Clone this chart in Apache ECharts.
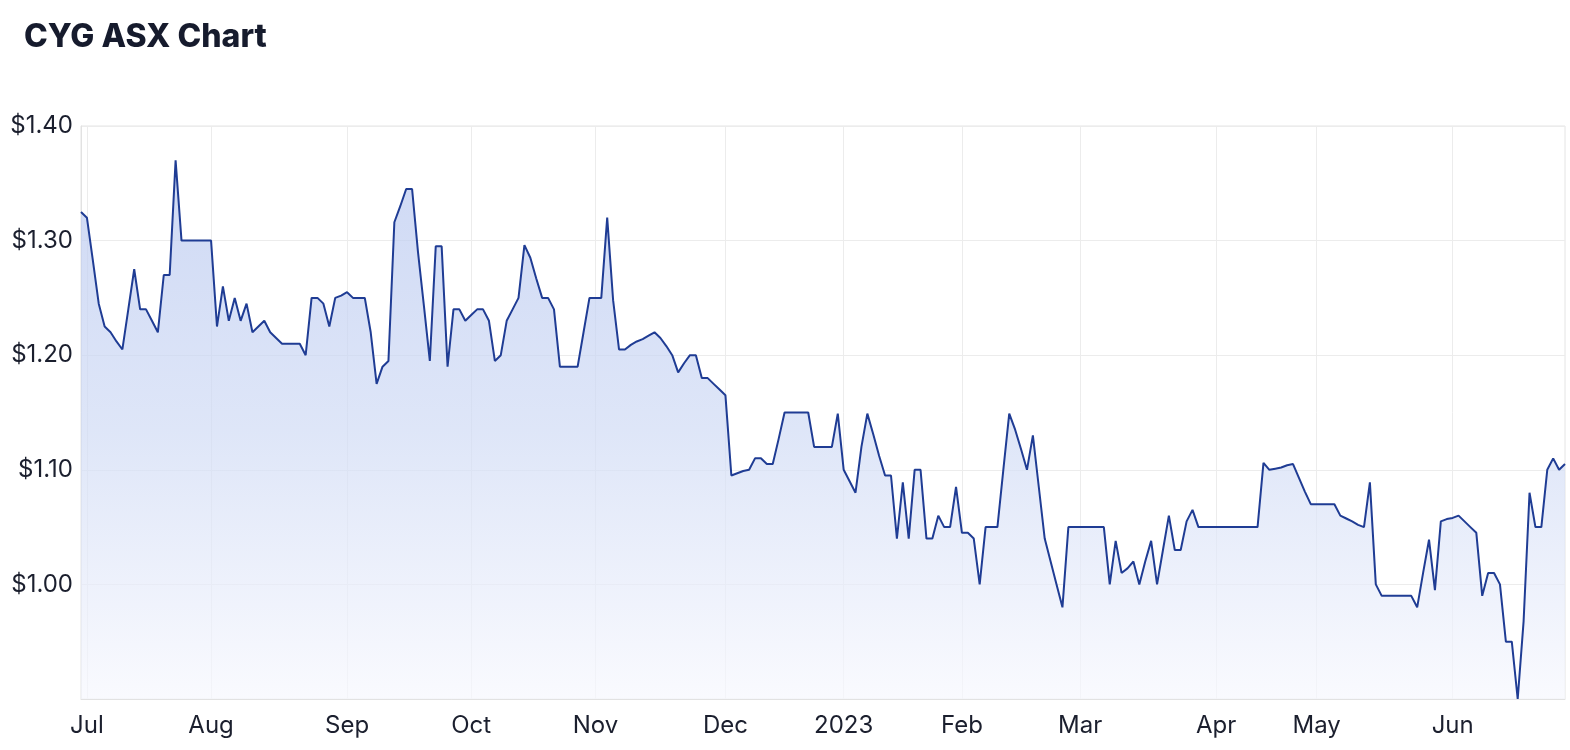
<!DOCTYPE html>
<html>
<head>
<meta charset="utf-8">
<script src="https://cdn.jsdelivr.net/npm/echarts@6/dist/echarts.min.js"></script>
<style>
html,body{margin:0;padding:0;background:#ffffff;}
#c{width:1570px;height:750px;}
</style>
</head>
<body>
<div id="c"></div>
<script>
// Trading months and the trading days (day of month) in each
const tradeMonths = ['2022-06','2022-07','2022-08','2022-09','2022-10','2022-11','2022-12','2023-01','2023-02','2023-03','2023-04','2023-05','2023-06'];
const tradeDays = [
  [30],
  [1,4,5,6,7,8,11,12,13,14,15,18,19,20,21,22,25,26,27,28,29],
  [1,2,3,4,5,8,9,10,11,12,15,16,17,18,19,22,23,24,25,26,29,30,31],
  [1,2,5,6,7,8,9,12,13,14,15,16,19,20,21,23,26,27,28,29,30],
  [3,4,5,6,7,10,11,12,13,14,17,18,19,20,21,24,25,26,27,28,31],
  [1,2,3,4,7,8,9,10,11,14,15,16,17,18,21,22,23,24,25,28,29,30],
  [1,2,5,6,7,8,9,12,13,14,15,16,19,20,21,22,23,28,29,30],
  [3,4,5,6,9,10,11,12,13,16,17,18,19,20,23,24,25,27,30,31],
  [1,2,3,6,7,8,9,10,13,14,15,16,17,20,21,22,23,24,27,28],
  [1,2,3,6,7,8,9,10,13,14,15,16,17,20,21,22,23,24,27,28,29,30,31],
  [3,4,5,6,11,12,13,14,17,18,19,20,21,24,26,27,28],
  [1,2,3,4,5,8,9,10,11,12,15,16,17,18,19,22,23,24,25,26,29,30,31],
  [1,2,5,6,7,8,9,13,14,15,16,19,20,21,22,23,26,27,28,29]
];
// Closing prices (A$) per month, aligned with tradeDays
const pricesJun22 = [1.325];
const pricesJul22 = [1.32,1.283,1.245,1.225,1.22,1.212,1.205,1.24,1.275,1.24,1.24,1.23,1.22,1.27,1.27,1.37,1.30,1.30,1.30,1.30,1.30];
const pricesAug22 = [1.30,1.225,1.26,1.23,1.25,1.23,1.245,1.22,1.225,1.23,1.22,1.215,1.21,1.21,1.21,1.21,1.20,1.25,1.25,1.245,1.225,1.25,1.252];
const pricesSep22 = [1.255,1.25,1.25,1.25,1.22,1.175,1.19,1.195,1.316,1.33,1.345,1.345,1.29,1.243,1.195,1.295,1.295,1.19,1.24,1.24,1.23];
const pricesOct22 = [1.235,1.24,1.24,1.23,1.195,1.20,1.23,1.24,1.25,1.296,1.285,1.267,1.25,1.25,1.24,1.19,1.19,1.19,1.19,1.22,1.25];
const pricesNov22 = [1.25,1.25,1.32,1.248,1.205,1.205,1.209,1.212,1.214,1.217,1.22,1.215,1.208,1.20,1.185,1.193,1.20,1.20,1.18,1.18,1.175,1.17];
const pricesDec22 = [1.165,1.095,1.097,1.099,1.10,1.11,1.11,1.105,1.105,1.127,1.15,1.15,1.15,1.15,1.15,1.12,1.12,1.12,1.12,1.149];
const pricesJan23 = [1.10,1.09,1.08,1.12,1.149,1.131,1.112,1.095,1.095,1.04,1.089,1.04,1.10,1.10,1.04,1.04,1.06,1.05,1.05,1.085];
const pricesFeb23 = [1.045,1.045,1.04,1.00,1.05,1.05,1.05,1.10,1.149,1.135,1.118,1.10,1.13,1.085,1.04,1.02,1.00,0.98,1.05,1.05];
const pricesMar23 = [1.05,1.05,1.05,1.05,1.05,1.00,1.038,1.01,1.014,1.02,1.00,1.02,1.038,1.00,1.03,1.06,1.03,1.03,1.055,1.065,1.05,1.05,1.05];
const pricesApr23 = [1.05,1.05,1.05,1.05,1.05,1.05,1.05,1.05,1.106,1.10,1.101,1.102,1.104,1.105,1.093,1.081,1.07];
const pricesMay23 = [1.07,1.07,1.07,1.07,1.06,1.0575,1.055,1.052,1.05,1.089,1.00,0.99,0.99,0.99,0.99,0.99,0.99,0.98,1.01,1.039,0.995,1.055,1.057];
const pricesJun23 = [1.058,1.06,1.055,1.05,1.045,0.99,1.01,1.01,1.00,0.95,0.95,0.90,0.968,1.08,1.05,1.05,1.10,1.11,1.10,1.105];
const monthPrices = [pricesJun22,pricesJul22,pricesAug22,pricesSep22,pricesOct22,pricesNov22,pricesDec22,pricesJan23,pricesFeb23,pricesMar23,pricesApr23,pricesMay23,pricesJun23];
const monthNames = ['Jan','Feb','Mar','Apr','May','Jun','Jul','Aug','Sep','Oct','Nov','Dec'];
const yTicks = [0.9, 1.4, 0.1]; // min, max, step

const categories = [];
const values = [];
const monthStarts = new Set();
tradeMonths.forEach(function (m, k) {
  tradeDays[k].forEach(function (d, j) {
    if (j === 0 && k > 0) monthStarts.add(categories.length);
    categories.push(m + '-' + String(d).padStart(2, '0'));
  });
  monthPrices[k].forEach(function (v) { values.push(v); });
});

const FONT = 'Inter, "Noto Sans", sans-serif';
const chart = echarts.init(document.getElementById('c'), null, { renderer: 'canvas' });
chart.setOption({
  animation: false,
  backgroundColor: '#ffffff',
  title: {
    text: 'CYG ASX Chart',
    left: 19,
    top: 16,
    textStyle: { fontFamily: FONT, fontWeight: 800, fontSize: 32, color: '#161b2d' }
  },
  grid: { left: 81, right: 5, top: 126, bottom: 51, show: true, borderColor: '#e4e4e4', borderWidth: 1 },
  xAxis: {
    type: 'category',
    data: categories,
    boundaryGap: false,
    axisLine: { show: true, lineStyle: { color: '#e2e2e2' } },
    axisTick: { show: false },
    axisLabel: {
      interval: function (i) { return monthStarts.has(i); },
      formatter: function (v) {
        const p = v.split('-');
        return p[1] === '01' ? p[0] : monthNames[+p[1] - 1];
      },
      color: '#1b1f2e',
      fontFamily: FONT,
      fontSize: 24,
      margin: 15
    },
    splitLine: {
      show: true,
      interval: function (i) { return monthStarts.has(i); },
      lineStyle: { color: '#ececec', width: 1 }
    }
  },
  yAxis: {
    type: 'value',
    min: yTicks[0],
    max: yTicks[1],
    interval: yTicks[2],
    axisLine: { show: true, lineStyle: { color: '#e2e2e2' } },
    axisTick: { show: false },
    axisLabel: {
      showMinLabel: false,
      formatter: function (v) { return '$' + v.toFixed(2); },
      color: '#1b1f2e',
      fontFamily: FONT,
      fontSize: 24,
      margin: 8
    },
    splitLine: { show: true, lineStyle: { color: '#ececec', width: 1 } }
  },
  series: [{
    type: 'line',
    data: values,
    symbol: 'none',
    smooth: false,
    lineStyle: { color: '#1f3c94', width: 2 },
    areaStyle: {
      color: new echarts.graphic.LinearGradient(0, 0, 0, 1, [
        { offset: 0, color: '#bac9f0' },
        { offset: 0.5, color: '#d0dbf5' },
        { offset: 1, color: '#f7f8fe' }
      ])
    }
  }]
});
</script>
</body>
</html>
